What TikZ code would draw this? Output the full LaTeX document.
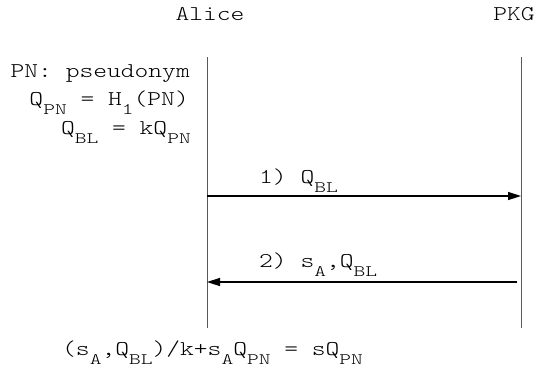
\documentclass[tikz,border=0pt]{standalone}
\usepackage{fontspec}
\setmonofont[FakeStretch=1.25]{lmmonolt10-regular.otf}
\newfontfamily\subfont[FakeStretch=1.4]{lmmonolt10-regular.otf}
\usetikzlibrary{arrows.meta}
\newcommand{\lo}[1]{\raisebox{-9.5pt}{\subfont\fontsize{16}{16}\selectfont #1}}
\begin{document}
\begin{tikzpicture}[x=1pt,y=-1pt,
  txt/.style={font=\ttfamily\fontsize{21}{25}\selectfont, inner sep=0pt},
  life/.style={draw=black!65, line width=1pt},
  msg/.style={line width=1.5pt, -{Triangle[length=13pt,width=8pt]}}]
\useasboundingbox (0,0) rectangle (539,376);
\node[txt, anchor=base] (alice) at (210,20) {Alice};
\node[txt, anchor=base] (pkg) at (514,20) {PKG};
\coordinate (atop) at (207,57);
\coordinate (abot) at (207,328);
\coordinate (ptop) at (521,57);
\coordinate (pbot) at (521,328);
\draw[life] (atop) -- (abot);
\draw[life] (ptop) -- (pbot);
\node[txt, anchor=base east] (pn) at (190,77) {PN: pseudonym};
\node[txt, anchor=base east] (qpn) at (189,105) {Q\lo{PN} = H\lo{1}(PN)};
\node[txt, anchor=base east] (qbl) at (191,134) {Q\lo{BL} = kQ\lo{PN}};
\coordinate (a1) at (207,196);
\coordinate (p1) at (521,196);
\coordinate (p2) at (517,282);
\coordinate (a2) at (207,282);
\draw[msg] (a1) -- (p1);
\draw[msg] (p2) -- (a2);
\node[txt, anchor=base west] (m1) at (259,183) {1) Q\lo{BL}};
\node[txt, anchor=base west] (m2) at (259,267) {2) s\lo{A},Q\lo{BL}};
\node[txt, anchor=base west] (res) at (62,355) {(s\lo{A},Q\lo{BL})/k+s\lo{A}Q\lo{PN} = sQ\lo{PN}};
\end{tikzpicture}
\end{document}
